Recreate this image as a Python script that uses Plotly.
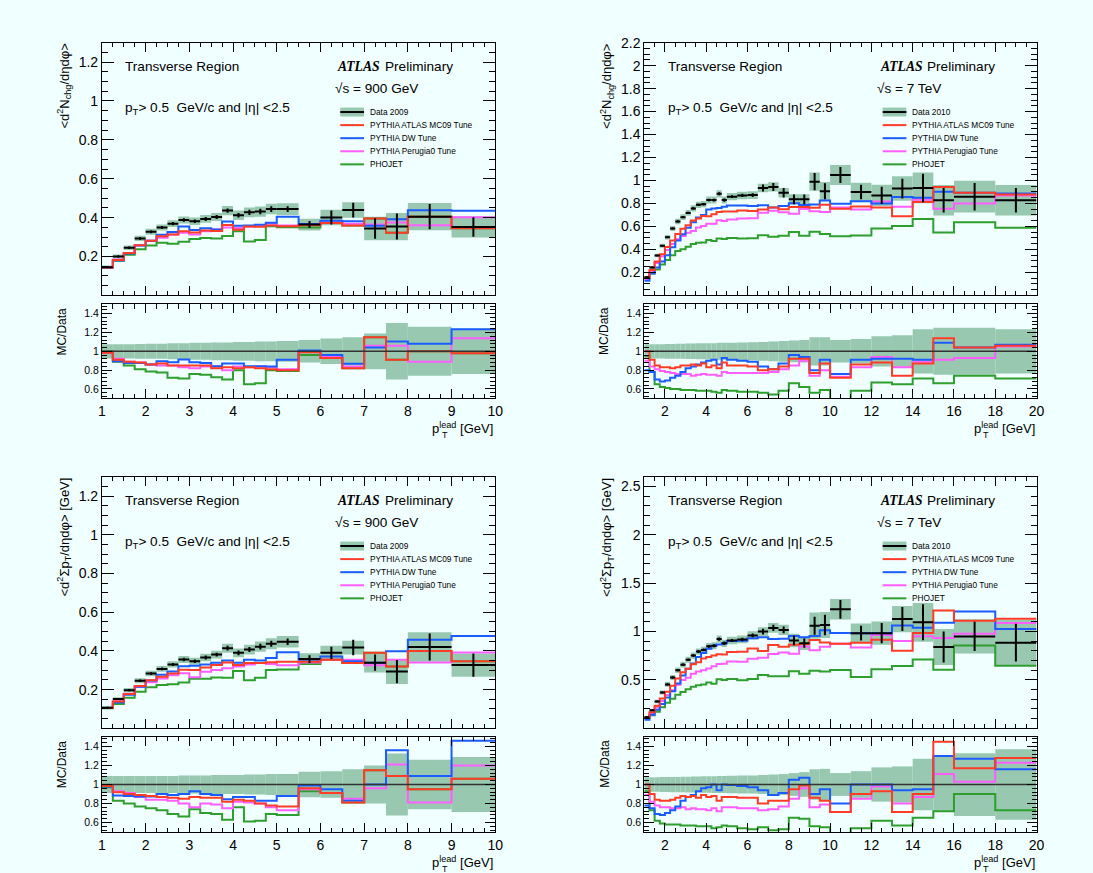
import plotly.graph_objects as go

W, H = 1093, 873
BG = "#f0ffff"
BAND = "#98c8b0"
RED, BLUE, PINK, GREEN = "#ff3c28", "#1a5cff", "#ff5eff", "#2e9e2e"
FONT = "Liberation Sans, Arial, sans-serif"

# -----------------------------
# Binning (pT lead, GeV)
# -----------------------------
EDGES_900 = [1.0, 1.25, 1.5, 1.75, 2.0, 2.25, 2.5, 2.75, 3.0, 3.25, 3.5, 3.75, 4.0,
             4.25, 4.5, 4.75, 5.0, 5.5, 6.0, 6.5, 7.0, 7.5, 8.0, 9.0, 10.0]
EDGES_7TEV = [1.0, 1.25, 1.5, 1.75, 2.0, 2.25, 2.5, 2.75, 3.0, 3.25, 3.5, 3.75, 4.0,
              4.25, 4.5, 4.75, 5.0, 5.5, 6.0, 6.5, 7.0, 7.5, 8.0, 8.5, 9.0, 9.5, 10.0,
              11.0, 12.0, 13.0, 14.0, 15.0, 16.0, 18.0, 20.0]

# -----------------------------
# 900 GeV, <d2Nchg/detadphi>
# -----------------------------
nch900_data = [0.145, 0.200, 0.245, 0.293, 0.327, 0.349, 0.369, 0.388, 0.381, 0.393, 0.403, 0.436,
               0.412, 0.427, 0.431, 0.444, 0.444, 0.364, 0.400, 0.439, 0.344, 0.354, 0.405, 0.352]
nch900_stat = [0.004, 0.005, 0.006, 0.007, 0.007, 0.008, 0.008, 0.009, 0.009, 0.010, 0.010, 0.011,
               0.012, 0.013, 0.014, 0.015, 0.015, 0.018, 0.036, 0.038, 0.053, 0.067, 0.065, 0.050]
nch900_sys = [0.008, 0.010, 0.012, 0.013, 0.015, 0.016, 0.017, 0.018, 0.019, 0.020, 0.021, 0.024,
              0.024, 0.025, 0.026, 0.027, 0.030, 0.030, 0.040, 0.040, 0.060, 0.070, 0.070, 0.055]
nch900_band = [0.075, 0.075, 0.075, 0.078, 0.080, 0.080, 0.085, 0.085, 0.090, 0.090, 0.095, 0.095,
               0.100, 0.100, 0.105, 0.105, 0.110, 0.120, 0.135, 0.150, 0.190, 0.300, 0.260, 0.240]
nch900_mc09 = [0.985, 0.91, 0.89, 0.88, 0.86, 0.87, 0.85, 0.85, 0.85, 0.85, 0.82, 0.83,
               0.82, 0.83, 0.82, 0.81, 0.80, 0.99, 0.93, 0.82, 1.15, 0.91, 1.00, 0.98]
nch900_dw = [0.99, 0.895, 0.877, 0.877, 0.86, 0.895, 0.884, 0.912, 0.884, 0.877, 0.842, 0.87,
             0.87, 0.842, 0.842, 0.84, 0.91, 1.01, 0.96, 0.867, 1.04, 1.105, 1.08, 1.235]
nch900_per = [0.985, 0.92, 0.89, 0.88, 0.86, 0.85, 0.85, 0.83, 0.82, 0.84, 0.84, 0.80,
              0.84, 0.83, 0.84, 0.83, 0.81, 1.00, 0.94, 0.84, 1.06, 1.06, 0.89, 1.14]
nch900_pho = [1.00, 0.89, 0.85, 0.81, 0.785, 0.775, 0.72, 0.71, 0.76, 0.75, 0.725, 0.70,
              0.80, 0.65, 0.66, 0.80, 0.79, 0.96, 0.93, 0.82, 1.15, 0.91, 1.00, 0.98]

# -----------------------------
# 7 TeV, <d2Nchg/detadphi>
# -----------------------------
nch7_data = [0.158, 0.243, 0.347, 0.432, 0.506, 0.582, 0.644, 0.681, 0.718, 0.757, 0.788, 0.794,
             0.830, 0.830, 0.884, 0.830, 0.859, 0.870, 0.873, 0.935, 0.944, 0.893, 0.836, 0.836,
             0.990, 0.907, 1.048, 0.900, 0.870, 0.930, 0.935, 0.828, 0.859, 0.828]
nch7_stat = [0.004, 0.005, 0.005, 0.006, 0.007, 0.007, 0.008, 0.008, 0.009, 0.009, 0.010, 0.010,
             0.011, 0.012, 0.013, 0.014, 0.012, 0.014, 0.016, 0.030, 0.035, 0.042, 0.042, 0.042,
             0.075, 0.070, 0.070, 0.064, 0.075, 0.086, 0.124, 0.106, 0.120, 0.106]
nch7_sys = [0.010, 0.012, 0.015, 0.018, 0.020, 0.022, 0.024, 0.025, 0.026, 0.027, 0.028, 0.028,
            0.030, 0.030, 0.032, 0.030, 0.032, 0.033, 0.034, 0.037, 0.040, 0.042, 0.045, 0.045,
            0.080, 0.080, 0.088, 0.080, 0.092, 0.106, 0.134, 0.133, 0.138, 0.133]
nch7_band = [0.075, 0.075, 0.075, 0.075, 0.078, 0.078, 0.080, 0.080, 0.082, 0.082, 0.085, 0.085,
             0.087, 0.087, 0.090, 0.090, 0.092, 0.094, 0.096, 0.100, 0.105, 0.110, 0.115, 0.120,
             0.150, 0.150, 0.120, 0.130, 0.160, 0.170, 0.235, 0.250, 0.250, 0.235]
nch7_mc09 = [1.00, 0.91, 0.85, 0.83, 0.83, 0.82, 0.83, 0.85, 0.85, 0.86, 0.85, 0.87,
             0.83, 0.85, 0.82, 0.88, 0.85, 0.85, 0.84, 0.80, 0.81, 0.84, 0.92, 0.92,
             0.77, 0.87, 0.72, 0.86, 0.88, 0.74, 0.87, 1.14, 1.04, 1.06]
nch7_dw = [0.80, 0.78, 0.70, 0.68, 0.69, 0.72, 0.74, 0.78, 0.82, 0.84, 0.86, 0.88,
           0.90, 0.91, 0.86, 0.93, 0.91, 0.90, 0.89, 0.84, 0.81, 0.87, 0.96, 0.94,
           0.80, 0.91, 0.76, 0.91, 0.92, 0.92, 0.91, 1.09, 1.04, 1.07]
nch7_per = [0.90, 0.84, 0.81, 0.79, 0.78, 0.77, 0.76, 0.76, 0.76, 0.74, 0.75, 0.76,
            0.75, 0.75, 0.74, 0.78, 0.77, 0.77, 0.77, 0.77, 0.78, 0.81, 0.85, 0.90,
            0.74, 0.80, 0.73, 0.83, 0.94, 0.83, 0.89, 0.91, 0.93, 1.05]
nch7_pho = [0.95, 0.78, 0.65, 0.62, 0.61, 0.60, 0.60, 0.59, 0.59, 0.59, 0.58, 0.58,
            0.58, 0.57, 0.56, 0.59, 0.58, 0.57, 0.57, 0.56, 0.54, 0.58, 0.66, 0.62,
            0.56, 0.59, 0.49, 0.58, 0.67, 0.65, 0.71, 0.66, 0.74, 0.71]

# -----------------------------
# 900 GeV, <d2SumPt/detadphi>
# -----------------------------
spt900_data = [0.107, 0.151, 0.197, 0.246, 0.283, 0.307, 0.330, 0.356, 0.347, 0.366, 0.381, 0.414,
               0.390, 0.407, 0.422, 0.437, 0.447, 0.358, 0.390, 0.417, 0.339, 0.293, 0.420, 0.327]
spt900_stat = [0.004, 0.005, 0.006, 0.006, 0.007, 0.007, 0.008, 0.009, 0.009, 0.010, 0.010, 0.012,
               0.012, 0.013, 0.015, 0.016, 0.017, 0.020, 0.032, 0.040, 0.042, 0.060, 0.070, 0.060]
spt900_sys = [0.007, 0.009, 0.011, 0.013, 0.014, 0.015, 0.016, 0.018, 0.018, 0.019, 0.020, 0.023,
              0.023, 0.025, 0.027, 0.028, 0.030, 0.030, 0.036, 0.036, 0.050, 0.064, 0.076, 0.060]
spt900_band = [0.090, 0.090, 0.090, 0.090, 0.090, 0.090, 0.090, 0.095, 0.095, 0.095, 0.100, 0.100,
               0.100, 0.105, 0.105, 0.110, 0.110, 0.135, 0.140, 0.160, 0.200, 0.325, 0.260, 0.290]
spt900_mc09 = [0.985, 0.92, 0.90, 0.89, 0.88, 0.87, 0.86, 0.85, 0.87, 0.86, 0.86, 0.82,
               0.84, 0.83, 0.80, 0.78, 0.77, 0.96, 0.91, 0.81, 1.15, 1.09, 0.95, 1.06]
spt900_dw = [0.98, 0.885, 0.88, 0.875, 0.875, 0.90, 0.89, 0.90, 0.93, 0.90, 0.89, 0.845,
             0.87, 0.87, 0.83, 0.83, 0.88, 0.99, 0.95, 0.83, 1.00, 1.36, 1.09, 1.46]
spt900_per = [0.985, 0.93, 0.91, 0.87, 0.84, 0.84, 0.83, 0.80, 0.76, 0.80, 0.79, 0.75,
              0.82, 0.81, 0.80, 0.76, 0.73, 0.95, 0.91, 0.85, 0.96, 1.21, 0.81, 1.20]
spt900_pho = [0.97, 0.83, 0.80, 0.77, 0.75, 0.73, 0.69, 0.665, 0.74, 0.70, 0.69, 0.63,
              0.76, 0.61, 0.62, 0.69, 0.68, 0.93, 0.91, 0.81, 1.15, 1.09, 0.95, 1.06]

# -----------------------------
# 7 TeV, <d2SumPt/detadphi>
# -----------------------------
spt7_data = [0.115, 0.186, 0.278, 0.370, 0.454, 0.525, 0.600, 0.658, 0.708, 0.752, 0.793, 0.810,
             0.847, 0.854, 0.922, 0.878, 0.908, 0.919, 0.960, 1.000, 1.037, 1.017, 0.908, 0.880,
             1.061, 1.068, 1.230, 0.983, 0.983, 1.129, 1.095, 0.840, 0.950, 0.885]
spt7_stat = [0.005, 0.006, 0.007, 0.008, 0.009, 0.010, 0.011, 0.012, 0.012, 0.013, 0.014, 0.014,
             0.015, 0.016, 0.017, 0.018, 0.016, 0.018, 0.020, 0.030, 0.032, 0.034, 0.050, 0.047,
             0.093, 0.105, 0.097, 0.076, 0.105, 0.124, 0.186, 0.160, 0.150, 0.195]
spt7_sys = [0.012, 0.015, 0.018, 0.021, 0.024, 0.026, 0.028, 0.030, 0.031, 0.032, 0.033, 0.034,
            0.035, 0.036, 0.038, 0.038, 0.038, 0.040, 0.042, 0.045, 0.050, 0.052, 0.070, 0.070,
            0.135, 0.135, 0.105, 0.100, 0.120, 0.135, 0.200, 0.186, 0.178, 0.237]
spt7_band = [0.077, 0.077, 0.077, 0.078, 0.078, 0.080, 0.080, 0.082, 0.083, 0.084, 0.085, 0.086,
             0.087, 0.088, 0.090, 0.090, 0.092, 0.094, 0.095, 0.100, 0.105, 0.110, 0.120, 0.130,
             0.160, 0.165, 0.120, 0.140, 0.180, 0.190, 0.270, 0.290, 0.330, 0.370]
spt7_mc09 = [1.00, 0.90, 0.84, 0.83, 0.83, 0.84, 0.86, 0.88, 0.87, 0.88, 0.86, 0.89,
             0.87, 0.88, 0.83, 0.87, 0.87, 0.86, 0.86, 0.80, 0.83, 0.83, 0.95, 0.99,
             0.86, 0.83, 0.71, 0.90, 0.93, 0.71, 0.90, 1.45, 1.17, 1.28]
spt7_dw = [0.78, 0.75, 0.69, 0.68, 0.70, 0.73, 0.77, 0.83, 0.87, 0.89, 0.93, 0.96,
           0.97, 1.00, 0.94, 1.00, 0.995, 0.985, 0.97, 0.94, 0.89, 0.91, 1.05, 1.07,
           0.90, 0.95, 0.80, 1.00, 1.00, 0.94, 0.95, 1.30, 1.27, 1.16]
spt7_per = [0.89, 0.82, 0.78, 0.76, 0.76, 0.75, 0.75, 0.76, 0.74, 0.75, 0.74, 0.74,
            0.73, 0.75, 0.72, 0.76, 0.76, 0.75, 0.75, 0.73, 0.74, 0.77, 0.85, 0.96,
            0.76, 0.79, 0.71, 0.85, 0.98, 0.80, 0.87, 1.11, 1.03, 1.23]
spt7_pho = [0.93, 0.73, 0.62, 0.59, 0.58, 0.58, 0.58, 0.57, 0.57, 0.57, 0.56, 0.56,
            0.56, 0.54, 0.55, 0.57, 0.56, 0.54, 0.53, 0.55, 0.52, 0.53, 0.65, 0.64,
            0.56, 0.55, 0.49, 0.54, 0.62, 0.57, 0.65, 0.72, 0.90, 0.73]

LEGEND_LABELS = ["PYTHIA ATLAS MC09 Tune", "PYTHIA DW Tune", "PYTHIA Perugia0 Tune", "PHOJET"]
YTITLE_NCH = "&lt;d<sup>2</sup>N<sub>chg</sub>/dηdφ&gt;"
YTITLE_SPT = "&lt;d<sup>2</sup>Σp<sub>T</sub>/dηdφ&gt; [GeV]"
CUT_TEXT = "p<sub>T</sub>&gt; 0.5\u00a0\u00a0GeV/c and |η| &lt;2.5"

# panel geometry in pixels: (left, right) and (main top, main bottom, ratio top, ratio bottom)
COLS = [(99.0, 496.7), (647.4, 1044.0)]
ROWS = [(35.0, 290.0, 299.0, 394.0), (473.0, 727.0, 735.7, 831.7)]

PANELS = [
    dict(col=0, row=0, edges=EDGES_900, data=nch900_data, stat=nch900_stat, sys=nch900_sys,
         band=nch900_band, mc=[nch900_pho, nch900_per, nch900_dw, nch900_mc09],
         yrange=[0, 1.3], ytickvals=[0.2, 0.4, 0.6, 0.8, 1.0, 1.2], yminor=0.05,
         xtickvals=[1, 2, 3, 4, 5, 6, 7, 8, 9, 10], xminor=0.25,
         ytitle=YTITLE_NCH, energy="√s = 900 GeV", dlabel="Data 2009"),
    dict(col=1, row=0, edges=EDGES_7TEV, data=nch7_data, stat=nch7_stat, sys=nch7_sys,
         band=nch7_band, mc=[nch7_pho, nch7_per, nch7_dw, nch7_mc09],
         yrange=[0, 2.2], ytickvals=[0.2, 0.4, 0.6, 0.8, 1.0, 1.2, 1.4, 1.6, 1.8, 2.0, 2.2], yminor=0.05,
         xtickvals=[2, 4, 6, 8, 10, 12, 14, 16, 18, 20], xminor=0.5,
         ytitle=YTITLE_NCH, energy="√s = 7 TeV", dlabel="Data 2010"),
    dict(col=0, row=1, edges=EDGES_900, data=spt900_data, stat=spt900_stat, sys=spt900_sys,
         band=spt900_band, mc=[spt900_pho, spt900_per, spt900_dw, spt900_mc09],
         yrange=[0, 1.3], ytickvals=[0.2, 0.4, 0.6, 0.8, 1.0, 1.2], yminor=0.05,
         xtickvals=[1, 2, 3, 4, 5, 6, 7, 8, 9, 10], xminor=0.25,
         ytitle=YTITLE_SPT, energy="√s = 900 GeV", dlabel="Data 2009"),
    dict(col=1, row=1, edges=EDGES_7TEV, data=spt7_data, stat=spt7_stat, sys=spt7_sys,
         band=spt7_band, mc=[spt7_pho, spt7_per, spt7_dw, spt7_mc09],
         yrange=[0, 2.6], ytickvals=[0.5, 1.0, 1.5, 2.0, 2.5], yminor=0.1,
         xtickvals=[2, 4, 6, 8, 10, 12, 14, 16, 18, 20], xminor=0.5,
         ytitle=YTITLE_SPT, energy="√s = 7 TeV", dlabel="Data 2010"),
]
MC_COLORS = [GREEN, PINK, BLUE, RED]


def px(x):
    return x / W


def py(y):
    return 1 - y / H


def steps(edges, vals):
    return list(edges), list(vals) + [vals[-1]]


def axis_style(domain, anchor, rng, tickvals, minor, ticklen, fontsize, labels=True, dtick0=None):
    return dict(
        domain=domain, anchor=anchor, range=rng, tickmode="array", tickvals=tickvals,
        ticks="inside", ticklen=ticklen, tickwidth=1, tickcolor="black",
        minor=dict(ticks="inside", ticklen=ticklen / 2, dtick=minor,
                   tick0=dtick0 if dtick0 is not None else tickvals[0], tickcolor="black"),
        showline=True, linecolor="black", linewidth=1, mirror="allticks",
        showgrid=False, zeroline=False, showticklabels=labels,
        tickfont=dict(family=FONT, size=fontsize, color="black"),
    )


fig = go.Figure()
layout = dict(
    width=W, height=H, paper_bgcolor=BG, plot_bgcolor=BG,
    margin=dict(l=0, r=0, t=0, b=0), showlegend=False, barmode="overlay",
    font=dict(family=FONT, color="black"),
)
shapes, annotations = [], []


def note(x, y, text, size=13.6, family=FONT, xanchor="left", angle=0, yanchor="middle"):
    annotations.append(dict(x=px(x), y=py(y), xref="paper", yref="paper", text=text,
                            showarrow=False, xanchor=xanchor, yanchor=yanchor, textangle=angle,
                            font=dict(family=family, size=size, color="black")))


for p_i, p in enumerate(PANELS):
    n_main, n_rat = 2 * p_i + 1, 2 * p_i + 2
    xm = "x" if n_main == 1 else f"x{n_main}"
    ym = "y" if n_main == 1 else f"y{n_main}"
    xr, yr = f"x{n_rat}", f"y{n_rat}"
    left, right = COLS[p["col"]]
    mtop, mbot, rtop, rbot = ROWS[p["row"]]
    xdom = [px(left), px(right)]
    edges = p["edges"]
    centers = [(a + b) / 2 for a, b in zip(edges[:-1], edges[1:])]
    widths = [b - a for a, b in zip(edges[:-1], edges[1:])]
    xrng = [edges[0], edges[-1]]

    key = "" if n_main == 1 else str(n_main)
    layout["xaxis" + key] = axis_style(xdom, ym, xrng, p["xtickvals"], p["xminor"], 9, 14,
                                       labels=False, dtick0=1)
    layout["yaxis" + key] = axis_style([py(mbot), py(mtop)], xm, p["yrange"], p["ytickvals"],
                                       p["yminor"], 12, 14, dtick0=0)
    layout[f"xaxis{n_rat}"] = axis_style(xdom, yr, xrng, p["xtickvals"], p["xminor"], 9, 14,
                                         dtick0=1)
    layout[f"yaxis{n_rat}"] = axis_style([py(rbot), py(rtop)], xr, [0.5, 1.5],
                                         [0.6, 0.8, 1.0, 1.2, 1.4], 0.04, 10, 10.5, dtick0=0.6)

    # main panel: systematic boxes, MC, data
    fig.add_trace(go.Bar(
        x=centers, y=[2 * s for s in p["sys"]], base=[d - s for d, s in zip(p["data"], p["sys"])],
        width=widths, marker=dict(color=BAND, line=dict(width=0)), xaxis=xm, yaxis=ym,
        hoverinfo="skip"))
    for ratio, color in zip(p["mc"], MC_COLORS):
        sx, sy = steps(edges, [d * r for d, r in zip(p["data"], ratio)])
        fig.add_trace(go.Scatter(x=sx, y=sy, mode="lines", line=dict(color=color, width=2, shape="hv"),
                                 xaxis=xm, yaxis=ym))
    fig.add_trace(go.Scatter(
        x=centers, y=p["data"], mode="markers", marker=dict(size=2, color="black"),
        error_x=dict(type="data", array=[w / 2 for w in widths], width=0, thickness=2, color="black"),
        error_y=dict(type="data", array=p["stat"], width=0, thickness=2, color="black"),
        xaxis=xm, yaxis=ym))

    # ratio panel
    fig.add_trace(go.Bar(
        x=centers, y=[2 * b for b in p["band"]], base=[1 - b for b in p["band"]],
        width=widths, marker=dict(color=BAND, line=dict(width=0)), xaxis=xr, yaxis=yr,
        hoverinfo="skip"))
    for ratio, color in zip(p["mc"], MC_COLORS):
        sx, sy = steps(edges, ratio)
        fig.add_trace(go.Scatter(x=sx, y=sy, mode="lines", line=dict(color=color, width=2, shape="hv"),
                                 xaxis=xr, yaxis=yr))
    fig.add_trace(go.Scatter(x=xrng, y=[1, 1], mode="lines", line=dict(color="#333333", width=1.5),
                             xaxis=xr, yaxis=yr))

    # -----------------------------
    # Texts
    # -----------------------------
    tx = left + 21.7
    note(tx, mtop + 24.3, "Transverse Region")
    note(tx, mtop + 66.7, CUT_TEXT)
    note(left + 236, mtop + 24.3, "<b><i>ATLAS</i></b>", family="Liberation Serif, Times New Roman, serif")
    note(left + 284.3, mtop + 24.3, "Preliminary")
    note(left + 233.7, mtop + 46.7, p["energy"])
    note(left - 38, mtop - 1, p["ytitle"], size=13, angle=-90, xanchor="center", yanchor="top")
    note(left - 40, rtop + 1, "MC/Data", size=12, angle=-90, xanchor="center", yanchor="top")
    note(right, rbot + 30, "p<sup>lead</sup> [GeV]", size=13, xanchor="right")
    note(right - 51, rbot + 37, "T", size=9, xanchor="center")

    # -----------------------------
    # Legend (drawn by hand, ROOT style)
    # -----------------------------
    lx0, lx1 = left + 241, left + 265
    ly = mtop + 70
    shapes.append(dict(type="rect", xref="paper", yref="paper", x0=px(lx0), x1=px(lx1),
                       y0=py(ly + 4.5), y1=py(ly - 4.5), fillcolor=BAND, line=dict(width=0)))
    shapes.append(dict(type="line", xref="paper", yref="paper", x0=px(lx0), x1=px(lx1),
                       y0=py(ly), y1=py(ly), line=dict(color="black", width=2)))
    note(lx1 + 4, ly, p["dlabel"], size=8.3)
    for k, (label, color) in enumerate(zip(LEGEND_LABELS, [RED, BLUE, PINK, GREEN])):
        yk = ly + 13.2 * (k + 1)
        shapes.append(dict(type="line", xref="paper", yref="paper", x0=px(lx0), x1=px(lx1),
                           y0=py(yk), y1=py(yk), line=dict(color=color, width=2)))
        note(lx1 + 4, yk, label, size=8.3)

layout["shapes"] = shapes
layout["annotations"] = annotations
fig.update_layout(**layout)
fig.write_html("out.html", config={"displayModeBar": False},
               post_script="document.body.style.margin='0';document.body.style.overflow='hidden';")
